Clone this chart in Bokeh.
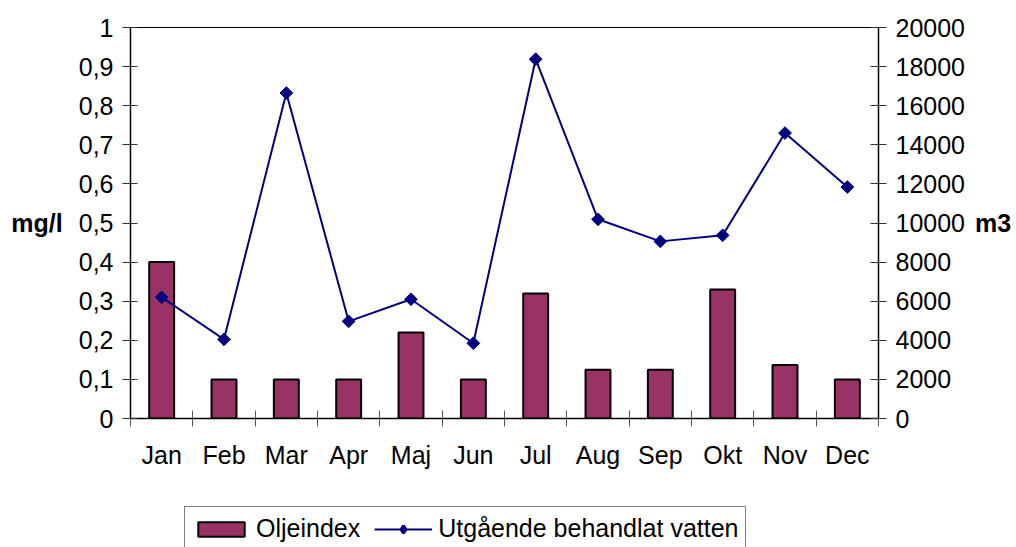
from bokeh.plotting import figure
from bokeh.models import (Range1d, LinearAxis, FixedTicker, CustomJSTickFormatter,
                          Legend, LegendItem, ColumnDataSource)
from bokeh.layouts import column
from bokeh.embed import file_html
from bokeh.resources import INLINE
import math

months = ["Jan", "Feb", "Mar", "Apr", "Maj", "Jun", "Jul", "Aug", "Sep", "Okt", "Nov", "Dec"]
oljeindex = [0.40, 0.10, 0.10, 0.10, 0.22, 0.10, 0.32, 0.125, 0.125, 0.33, 0.137, 0.10]
vatten = [6200, 4050, 16650, 4970, 6100, 3850, 18380, 10190, 9060, 9370, 14600, 11840]
left_ticks = [0, 0.1, 0.2, 0.3, 0.4, 0.5, 0.6, 0.7, 0.8, 0.9, 1.0]
right_ticks = [0, 2000, 4000, 6000, 8000, 10000, 12000, 14000, 16000, 18000, 20000]
series_names = ["Oljeindex", "Utgående behandlat vatten"]

FONT = "Liberation Sans"
FS = "25px"
BAR_FILL = "#993366"
LINE_COL = "#000080"

src = ColumnDataSource(dict(x=[i + 0.5 for i in range(len(months))],
                            olje=oljeindex, vatten=vatten))

p = figure(width=1016, height=506, x_range=Range1d(0, 12), y_range=Range1d(0, 1),
           toolbar_location=None, output_backend="svg",
           min_border_left=130, min_border_right=138, min_border_top=27, min_border_bottom=88)
p.extra_y_ranges = {"m3": Range1d(0, 20000)}
p.xgrid.visible = False
p.ygrid.visible = False
p.outline_line_color = "black"
p.outline_line_width = 1
p.background_fill_color = "white"
p.border_fill_color = "white"

p.vbar(x="x", top="olje", width=0.4, source=src, fill_color=BAR_FILL,
       line_color="black", line_width=2)
p.line(x="x", y="vatten", source=src, y_range_name="m3", line_color=LINE_COL, line_width=2)
p.scatter(x="x", y="vatten", source=src, y_range_name="m3", marker="square",
          angle=math.pi / 4, size=9, fill_color=LINE_COL, line_color=LINE_COL)

# x axis
xa = p.xaxis[0]
xa.ticker = FixedTicker(ticks=[i + 0.5 for i in range(12)], minor_ticks=list(range(13)))
xa.formatter = CustomJSTickFormatter(args=dict(labels=months),
                                     code="return labels[Math.floor(tick)];")
xa.major_tick_in = 0
xa.major_tick_out = 0
xa.minor_tick_in = 8
xa.minor_tick_out = 8
xa.minor_tick_line_color = "#555555"
xa.axis_line_color = "black"
xa.axis_line_width = 1.5
xa.major_label_standoff = 14
xa.major_label_text_font = FONT
xa.major_label_text_font_size = FS
xa.major_label_text_color = "black"

# left axis
ya = p.yaxis[0]
ya.ticker = FixedTicker(ticks=left_ticks)
ya.formatter = CustomJSTickFormatter(code="return (Math.round(tick*10)/10).toString().replace('.', ',');")
ya.major_tick_in = 7
ya.major_tick_out = 8
ya.minor_tick_line_color = None
ya.axis_line_color = "black"
ya.axis_line_width = 1.5
ya.major_tick_line_color = "#333333"
ya.major_label_standoff = 9
ya.major_label_text_font = FONT
ya.major_label_text_font_size = FS
ya.major_label_text_color = "black"
ya.axis_label = "mg/l"
ya.axis_label_orientation = "horizontal"
ya.axis_label_text_font = FONT
ya.axis_label_text_font_size = FS
ya.axis_label_text_font_style = "bold"
ya.axis_label_text_color = "black"
ya.axis_label_standoff = 13

# right axis
ra = LinearAxis(y_range_name="m3", ticker=FixedTicker(ticks=right_ticks))
ra.major_tick_in = 8
ra.major_tick_out = 8
ra.minor_tick_line_color = None
ra.axis_line_color = "black"
ra.axis_line_width = 1.5
ra.major_tick_line_color = "#333333"
ra.major_label_standoff = 9
ra.major_label_text_font = FONT
ra.major_label_text_font_size = FS
ra.major_label_text_color = "black"
ra.axis_label = "m3"
ra.axis_label_orientation = "horizontal"
ra.axis_label_text_font = FONT
ra.axis_label_text_font_size = FS
ra.axis_label_text_font_style = "bold"
ra.axis_label_text_color = "black"
ra.axis_label_standoff = 7
p.add_layout(ra, "right")

# legend strip below the chart (its glyph renderers are hidden; only the legend shows)
lf = figure(width=1016, height=41, x_range=Range1d(0, 12), y_range=Range1d(0, 1),
            toolbar_location=None, output_backend="svg",
            min_border_left=130, min_border_right=138, min_border_top=0, min_border_bottom=0,
            x_axis_location=None, y_axis_location=None)
lf.extra_y_ranges = {"m3": Range1d(0, 20000)}
lf.xgrid.visible = False
lf.ygrid.visible = False
lf.outline_line_color = None
lf.border_fill_color = "white"
lb = lf.vbar(x="x", top="olje", width=0.4, source=src, fill_color=BAR_FILL,
             line_color="black", line_width=2, visible=False)
ll = lf.line(x="x", y="vatten", source=src, y_range_name="m3", line_color=LINE_COL,
             line_width=2, visible=False)
lm = lf.scatter(x="x", y="vatten", source=src, y_range_name="m3", marker="diamond",
                size=9, fill_color=LINE_COL, line_color=LINE_COL, line_width=3, visible=False)

legend = Legend(items=[LegendItem(label=series_names[0], renderers=[lb]),
                       LegendItem(label=series_names[1], renderers=[ll, lm])],
                orientation="horizontal", location=(54, -4),
                label_text_font=FONT, label_text_font_size=FS, label_text_color="black",
                glyph_width=58, glyph_height=18, label_standoff=6, spacing=14,
                padding=7, margin=0, border_line_color="black", border_line_width=1,
                background_fill_color="white", background_fill_alpha=1,
                inactive_fill_alpha=0)
lf.add_layout(legend)

open("out.html", "w").write(file_html(column(p, lf, spacing=0), INLINE))
